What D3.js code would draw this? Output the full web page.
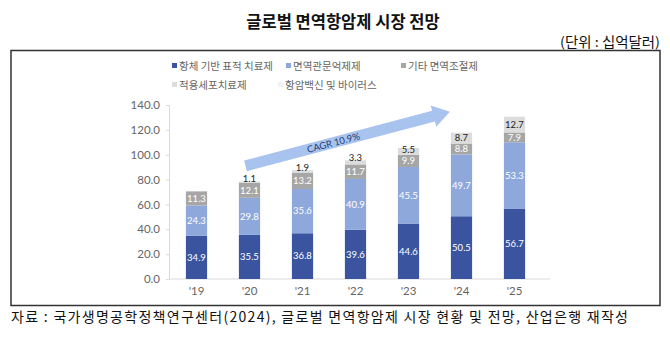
<!DOCTYPE html>
<html><head><meta charset="utf-8">
<script src="https://cdn.jsdelivr.net/npm/d3@7"></script>
<style>
html,body{margin:0;padding:0;background:#fff;}
svg{display:block;}
</style>
</head><body>
<svg id="c" width="670" height="342"></svg>
<script>
const years = ["'19","'20","'21","'22","'23","'24","'25"];
const seriesNames = ["항체 기반 표적 치료제","면역관문억제제","기타 면역조절제","적용세포치료제","항암백신 및 바이러스"];
const antibody = [34.9,35.5,36.8,39.6,44.6,50.5,56.7];
const checkpoint = [24.3,29.8,35.6,40.9,45.5,49.7,53.3];
const otherMod = [11.3,12.1,13.2,11.7,9.9,8.8,7.9];
const cellTherapy = [0,1.1,1.9,3.3,5.5,8.7,12.7];
const vaccine = [0,0,0,0,0,0,0];
const yTicks = [0,20,40,60,80,100,120,140];
const colors = ["#3b549f","#8ea8dc","#a6a6a6","#dcdcdc","#f2f2f2"];
const labelColors = ["#ffffff","#ffffff","#ffffff","#222222",null];

const svg = d3.select("#c");
const font = "'Noto Sans CJK KR','Noto Sans',sans-serif";

// title
svg.append("text").attr("x",343).attr("y",28).attr("text-anchor","middle")
  .attr("font-family",font).attr("font-weight",700).attr("font-size",16.5).attr("fill","#111")
  .text("글로벌 면역항암제 시장 전망");
svg.append("text").attr("x",660).attr("y",47).attr("text-anchor","end")
  .attr("font-family",font).attr("font-size",13.5).attr("fill","#111")
  .attr("textLength",100).attr("lengthAdjust","spacingAndGlyphs")
  .text("(단위 : 십억달러)");
// frame
svg.append("rect").attr("x",11).attr("y",50.5).attr("width",649).attr("height",255)
  .attr("fill","none").attr("stroke","#333").attr("stroke-width",1.5);
// footer
svg.append("text").attr("x",11).attr("y",322)
  .attr("font-family",font).attr("font-size",14).attr("fill","#111")
  .attr("textLength",617).attr("lengthAdjust","spacing")
  .text("자료 : 국가생명공학정책연구센터(2024), 글로벌 면역항암제 시장 현황 및 전망, 산업은행 재작성");

const x = d3.scaleBand().domain(years).range([170,541]).paddingInner(0.6).paddingOuter(0.3);
const y = d3.scaleLinear().domain([0,140]).range([279,105]);

// y axis
const yAxis = svg.append("g").attr("transform","translate(169,0)")
  .call(d3.axisLeft(y).tickValues(yTicks).tickFormat(d3.format(".1f")).tickSize(3).tickPadding(6));
yAxis.select(".domain").attr("stroke","#d9d9d9");
yAxis.selectAll(".tick line").attr("stroke","#d9d9d9");
yAxis.selectAll("text").attr("font-family","Lato,'Noto Sans',sans-serif").attr("font-size",11.5).attr("fill","#666");

// baseline
svg.append("line").attr("x1",169).attr("x2",550).attr("y1",y(0)).attr("y2",y(0)).attr("stroke","#d9d9d9");

// x axis labels
const xAxis = svg.append("g").attr("transform",`translate(0,${y(0)})`)
  .call(d3.axisBottom(x).tickSize(0).tickPadding(8));
xAxis.select(".domain").remove();
xAxis.selectAll("text").attr("font-family","Lato,'Noto Sans',sans-serif").attr("font-size",11.5).attr("fill","#666");

// stacked data
const table = years.map((yr,i)=>({year:yr, s0:antibody[i], s1:checkpoint[i], s2:otherMod[i], s3:cellTherapy[i], s4:vaccine[i]}));
const keys = ["s0","s1","s2","s3","s4"];
const stacked = d3.stack().keys(keys)(table);

const layers = svg.append("g").selectAll("g").data(stacked).join("g").attr("fill",(d,i)=>colors[i]);
layers.selectAll("rect").data(d=>d).join("rect")
  .attr("x",d=>x(d.data.year)).attr("width",x.bandwidth())
  .attr("y",d=>y(d[1])).attr("height",d=>Math.max(0,y(d[0])-y(d[1])));

// labels
stacked.forEach((layer,i)=>{
  if(!labelColors[i]) return;
  svg.append("g").selectAll("text").data(layer.filter(d=>d[1]-d[0]>0)).join("text")
    .attr("x",d=>x(d.data.year)+x.bandwidth()/2)
    .attr("y",d=>{
      const h=y(d[0])-y(d[1]);
      const mid=(y(d[0])+y(d[1]))/2;
      if(i===3 && h<6) return y(d[1])+0.5;
      if(i===3 && h<9) return y(d[1])+5;
      return mid+3.3;
    })
    .attr("text-anchor","middle")
    .attr("font-family","Lato,'Noto Sans',sans-serif").attr("font-size",9.5)
    .attr("fill",labelColors[i])
    .text(d=>d3.format(".1f")(d[1]-d[0]));
});

// legend
const legendItems = [
  {name:seriesNames[0], c:colors[0], x:172, y:66},
  {name:seriesNames[1], c:colors[1], x:286, y:66},
  {name:seriesNames[2], c:colors[2], x:401, y:66},
  {name:seriesNames[3], c:colors[3], x:172, y:85},
  {name:seriesNames[4], c:colors[4], x:278, y:85}
];
const lg = svg.append("g").selectAll("g").data(legendItems).join("g")
  .attr("transform",d=>`translate(${d.x},${d.y})`);
lg.append("rect").attr("x",0).attr("y",-3).attr("width",5).attr("height",5).attr("fill",d=>d.c);
lg.append("text").attr("x",7).attr("y",3.5).attr("font-family",font).attr("font-size",10.5).attr("fill","#666").text(d=>d.name);

// CAGR arrow (data-space anchored)
const aStart = [x("'20")+x.bandwidth()/2-4, 91];
const aEnd = [x("'24")-1, 134.5];
const p0 = [aStart[0], y(aStart[1])], p1 = [aEnd[0], y(aEnd[1])];
const ang = Math.atan2(p1[1]-p0[1], p1[0]-p0[0]);
const len = Math.hypot(p1[0]-p0[0], p1[1]-p0[1]);
const bodyH = 11, headH = 22, headL = 17;
const arrow = svg.append("g").attr("transform",`translate(${p0[0]},${p0[1]}) rotate(${ang*180/Math.PI})`);
arrow.append("path")
  .attr("d",`M0,${-bodyH/2} L${len-headL},${-bodyH/2} L${len-headL},${-headH/2} L${len},0 L${len-headL},${headH/2} L${len-headL},${bodyH/2} L0,${bodyH/2} Z`)
  .attr("fill","#a9c3ef");
arrow.append("text").attr("x",len*0.43).attr("y",3.5).attr("text-anchor","middle")
  .attr("font-family","Lato,'Noto Sans',sans-serif").attr("font-size",9.5).attr("fill","#1f3a6e")
  .text("CAGR 10.9%");
</script>
</body></html>
